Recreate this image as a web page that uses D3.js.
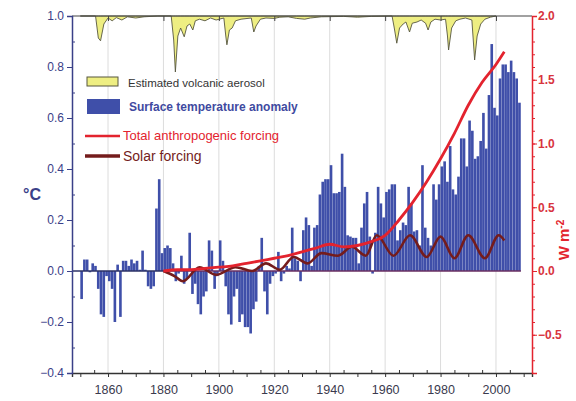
<!DOCTYPE html>
<html>
<head>
<meta charset="utf-8">
<script src="https://cdn.jsdelivr.net/npm/d3@7"></script>
<style>
  body { margin: 0; background: #fff; }
  svg { font-family: "Liberation Sans", Arial, sans-serif; }
</style>
</head>
<body>
<div id="chart-area"></div>
<script>
// annual surface temperature anomaly (°C), 1850 - 2008
var tempStart = 1850;
var tempValues = [
  -0.11, 0.045, 0.045, -0.005, 0.03, 0.02, -0.07, -0.17, -0.18, -0.02,
  -0.04, -0.07, -0.2, 0.025, -0.18, 0.04, 0.04, 0.02, 0.045, 0.03,
  0.04, 0.005, 0.08, 0.005, -0.06, -0.07, -0.06, 0.245, 0.36, 0.07,
  0.09, 0.1, 0.09, 0.03, -0.04, -0.01, 0.06, -0.05, -0.03, 0.15,
  -0.09, -0.05, -0.13, -0.17, -0.1, -0.08, 0.12, 0.08, -0.07, -0.02,
  0.12, 0.04, -0.06, -0.17, -0.21, -0.1, -0.07, -0.2, -0.17, -0.22,
  -0.22, -0.245, -0.15, -0.12, 0.02, 0.13, -0.08, -0.17, -0.05, -0.02,
  -0.01, 0.075, -0.04, -0.01, 0.02, 0.01, 0.17, 0.05, 0.04, -0.04,
  0.16, 0.21, 0.18, 0.02, 0.17, 0.18, 0.30, 0.35, 0.36, 0.36,
  0.415, 0.305, 0.305, 0.31, 0.46, 0.33, 0.14, 0.135, 0.13, 0.13,
  0.03, 0.17, 0.265, 0.31, 0.135, -0.01, 0.15, 0.33, 0.265, 0.21,
  0.31, 0.32, 0.34, 0.34, 0.12, 0.16, 0.19, 0.18, 0.33, 0.265,
  0.155, 0.16, 0.1, 0.415, 0.17, 0.13, 0.1, 0.34, 0.28, 0.34,
  0.41, 0.43, 0.35, 0.49, 0.32, 0.30, 0.37, 0.52, 0.52, 0.41,
  0.59, 0.55, 0.44, 0.45, 0.51, 0.62, 0.48, 0.69, 0.89, 0.64,
  0.61, 0.755, 0.81, 0.81, 0.78, 0.825, 0.78, 0.755, 0.66
];

// total anthropogenic forcing (W m-2)
var anthroYears  = [1880, 1885, 1890, 1895, 1900, 1905, 1910, 1915, 1920, 1925, 1930, 1935, 1940,
                    1945, 1950, 1955, 1960, 1965, 1970, 1975, 1980, 1985, 1990, 1995, 2000, 2003];
var anthroValues = [0.0, 0.01, 0.01, 0.02, 0.03, 0.04, 0.06, 0.08, 0.10, 0.12, 0.15, 0.18, 0.21,
                    0.19, 0.20, 0.23, 0.28, 0.40, 0.54, 0.70, 0.88, 1.08, 1.30, 1.48, 1.62, 1.72];

// solar forcing (W m-2)
var solarYears  = [1880, 1884, 1887, 1893, 1899, 1906, 1912, 1917, 1922, 1927, 1932, 1937, 1943,
                   1948, 1953, 1957, 1963, 1969, 1975, 1980, 1985, 1990, 1996, 2001, 2003];
var solarValues = [0.0, -0.04, -0.08, 0.03, -0.03, 0.03, 0.0, 0.06, 0.01, 0.11, 0.06, 0.14, 0.12,
                   0.19, 0.12, 0.28, 0.12, 0.28, 0.11, 0.27, 0.10, 0.28, 0.10, 0.28, 0.24];

// estimated volcanic aerosol (optical depth, hangs from the top)
var volcYears = [1850, 1855.5, 1856.5, 1857.3, 1858.5, 1860, 1861.5, 1863, 1865, 1867, 1870, 1873, 1878,
  1882.8, 1883.7, 1884.3, 1885.2, 1886.2, 1887.5, 1888.5, 1889.5, 1890.6, 1891.5, 1893, 1895, 1897, 1899,
  1901.8, 1902.5, 1902.9, 1903.8, 1904.8, 1906, 1908, 1911.7, 1912.6, 1913.4, 1915, 1917, 1920, 1922,
  1925, 1928, 1931, 1933, 1937, 1945, 1950, 1955, 1962.5, 1963.3, 1964.2, 1965.2, 1966.5, 1967.5,
  1968.8, 1969.8, 1971.5, 1973, 1974.6, 1975.5, 1976.5, 1978, 1980, 1981.8, 1982.5, 1982.9, 1984,
  1985.5, 1987, 1989, 1991.3, 1991.8, 1992.3, 1993.2, 1994.5, 1996, 1998, 2000];
var volcValues = [0, 0, 0.055, 0.062, 0.02, 0.005, 0.012, 0.004, 0.01, 0.002, 0.005, 0.002, 0,
  0, 0.06, 0.14, 0.05, 0.03, 0.052, 0.025, 0.02, 0.035, 0.012, 0.008, 0.012, 0.005, 0.01,
  0.005, 0.05, 0.072, 0.035, 0.03, 0.012, 0.008, 0.005, 0.04, 0.025, 0.008, 0.005, 0.006, 0.003,
  0.002, 0.006, 0.008, 0.005, 0.002, 0.001, 0.003, 0.001, 0, 0.03, 0.068, 0.03, 0.02, 0.015,
  0.04, 0.018, 0.015, 0.01, 0.018, 0.035, 0.015, 0.008, 0.01, 0.008, 0.05, 0.085, 0.03,
  0.012, 0.008, 0.005, 0.01, 0.06, 0.11, 0.05, 0.02, 0.008, 0.003, 0];

var xTicks = [1860, 1880, 1900, 1920, 1940, 1960, 1980, 2000];

var W = 576, H = 401;
var pLeft = 72, pRight = 532, pTop = 16, pBottom = 373;

var navy = "#3a4088", red = "#e3232e", brown = "#741c1c", barBlue = "#3f4fa9";

var svg = d3.select("#chart-area").append("svg")
    .attr("width", W)
    .attr("height", H);

var x = d3.scaleLinear().domain([1847, 2013]).range([pLeft, pRight]);
var y = d3.scaleLinear().domain([-0.4, 1.0]).range([pBottom, pTop]);
var yR = d3.scaleLinear().domain([-0.8, 2.0]).range([pBottom, pTop]);
var yV = d3.scaleLinear().domain([0, 0.2]).range([pTop, pTop + 80]);

// vertical grid lines
svg.append("g").selectAll("line")
    .data(xTicks)
  .enter().append("line")
    .attr("x1", (d) => x(d)).attr("x2", (d) => x(d))
    .attr("y1", pTop).attr("y2", pBottom)
    .attr("stroke", "#dcdcdc")
    .attr("stroke-width", 1);

// volcanic aerosol
var volc = volcYears.map((d, i) => ({ year: d, v: volcValues[i] }));
svg.append("path")
    .datum(volc)
    .attr("d", d3.area().x((d) => x(d.year)).y0(pTop).y1((d) => yV(d.v)))
    .attr("fill", "#eeee82")
    .attr("stroke", "#57573f")
    .attr("stroke-width", 0.9);

// temperature bars
var temps = tempValues.map((d, i) => ({ year: tempStart + i, v: d }));
svg.append("g").selectAll("rect")
    .data(temps)
  .enter().append("rect")
    .attr("x", (d) => x(d.year))
    .attr("width", (d) => x(d.year + 1) - x(d.year) - 0.15)
    .attr("y", (d) => y(Math.max(0, d.v)))
    .attr("height", (d) => Math.abs(y(d.v) - y(0)))
    .attr("fill", barBlue);

// zero line
svg.append("line")
    .attr("x1", pLeft).attr("x2", x(1880))
    .attr("y1", y(0)).attr("y2", y(0))
    .attr("stroke", "#2c3266").attr("stroke-width", 1.6);
svg.append("line")
    .attr("x1", x(1880)).attr("x2", x(2009))
    .attr("y1", y(0)).attr("y2", y(0))
    .attr("stroke", "#6a2f62").attr("stroke-width", 1.6);

// forcing lines
var anthro = anthroYears.map((d, i) => ({ year: d, v: anthroValues[i] }));
var solar = solarYears.map((d, i) => ({ year: d, v: solarValues[i] }));
var line = d3.line().x((d) => x(d.year)).y((d) => yR(d.v)).curve(d3.curveMonotoneX);

svg.append("path")
    .datum(solar)
    .attr("d", line)
    .attr("fill", "none")
    .attr("stroke", brown)
    .attr("stroke-width", 2.6);

svg.append("path")
    .datum(anthro)
    .attr("d", line)
    .attr("fill", "none")
    .attr("stroke", red)
    .attr("stroke-width", 2.8);

// frame: top line with ticks
svg.append("line")
    .attr("x1", pLeft).attr("x2", pRight)
    .attr("y1", pTop).attr("y2", pTop)
    .attr("stroke", "#444").attr("stroke-width", 1.2);
var topAxis = svg.append("g")
    .attr("transform", "translate(0," + pTop + ")")
    .call(d3.axisBottom(x).tickValues(xTicks).tickSize(5).tickFormat(""));
topAxis.select(".domain").remove();
topAxis.selectAll("line").attr("stroke", "#444");

// bottom axis
var xAxis = svg.append("g")
    .attr("transform", "translate(0," + pBottom + ")")
    .call(d3.axisBottom(x).tickValues(d3.range(1850, 2011, 10)).tickSize(4)
        .tickFormat((d) => (xTicks.indexOf(d) >= 0 ? d : "")));
xAxis.select(".domain").attr("stroke", "#333").attr("stroke-width", 1.4);
xAxis.selectAll("line").attr("stroke", "#333");
xAxis.selectAll("text")
    .attr("dy", "1.1em")
    .attr("fill", "#3a3a4e")
    .style("font-size", "12.5px");
svg.append("g")
    .attr("transform", "translate(0," + pBottom + ")")
    .call(d3.axisTop(x).tickValues(d3.range(1855, 2011, 10)).tickSize(3).tickFormat(""))
    .call((g) => g.select(".domain").remove())
    .selectAll("line").attr("stroke", "#333");

// left axis
var yAxis = svg.append("g")
    .attr("transform", "translate(" + pLeft + ",0)")
    .call(d3.axisLeft(y).tickValues(d3.range(-0.4, 1.01, 0.2)).tickSize(5).tickFormat(d3.format(".1f")));
yAxis.select(".domain").attr("stroke", navy).attr("stroke-width", 1.5);
yAxis.selectAll("line").attr("stroke", navy);
yAxis.selectAll("text")
    .attr("fill", navy)
    .style("font-size", "12px");
svg.append("g")
    .attr("transform", "translate(" + pLeft + ",0)")
    .call(d3.axisRight(y).tickValues(d3.range(-0.3, 1.0, 0.2)).tickSize(3).tickFormat(""))
    .call((g) => g.select(".domain").remove())
    .selectAll("line").attr("stroke", navy);

// right axis
var yAxisR = svg.append("g")
    .attr("transform", "translate(" + pRight + ",0)")
    .call(d3.axisRight(yR).tickValues(d3.range(-0.5, 2.01, 0.5)).tickSize(5).tickFormat(d3.format(".1f")));
yAxisR.select(".domain").attr("stroke", red).attr("stroke-width", 1.5);
yAxisR.selectAll("line").attr("stroke", red);
yAxisR.selectAll("text")
    .attr("fill", "#d8343e")
    .attr("x", 6)
    .style("font-size", "12px")
    .style("font-weight", "bold");
svg.append("g")
    .attr("transform", "translate(" + pRight + ",0)")
    .call(d3.axisRight(yR).tickValues(d3.range(-0.7, 2.0, 0.1)).tickSize(3).tickFormat(""))
    .call((g) => g.select(".domain").remove())
    .selectAll("line").attr("stroke", red);

// axis titles
svg.append("text")
    .attr("x", 32).attr("y", 200)
    .attr("text-anchor", "middle")
    .attr("fill", navy)
    .style("font-size", "16px")
    .style("font-weight", "bold")
    .text("°C");

var rLabel = svg.append("text")
    .attr("transform", "translate(569,240) rotate(-90)")
    .attr("text-anchor", "middle")
    .attr("fill", red)
    .style("font-size", "15px")
    .style("font-weight", "bold");
rLabel.append("tspan").text("W m");
rLabel.append("tspan").attr("dy", "-0.5em").style("font-size", "10px").text("-2");

// legend
svg.append("rect")
    .attr("x", 87).attr("y", 77).attr("width", 31).attr("height", 9)
    .attr("fill", "#eeee82").attr("stroke", "#57573f").attr("stroke-width", 1);
svg.append("text")
    .attr("x", 128).attr("y", 87)
    .attr("fill", "#333")
    .style("font-size", "11.5px")
    .text("Estimated volcanic aerosol");

svg.append("rect")
    .attr("x", 87).attr("y", 99).attr("width", 33).attr("height", 15)
    .attr("fill", barBlue);
svg.append("text")
    .attr("x", 129).attr("y", 111)
    .attr("fill", "#3f4aa0")
    .style("font-size", "12px")
    .style("font-weight", "bold")
    .text("Surface temperature anomaly");

svg.append("line")
    .attr("x1", 85).attr("x2", 120).attr("y1", 136).attr("y2", 136)
    .attr("stroke", red).attr("stroke-width", 2.5);
svg.append("text")
    .attr("x", 123).attr("y", 140)
    .attr("fill", red)
    .style("font-size", "13px")
    .text("Total anthropogenic forcing");

svg.append("line")
    .attr("x1", 85).attr("x2", 120).attr("y1", 156).attr("y2", 156)
    .attr("stroke", brown).attr("stroke-width", 3.5);
svg.append("text")
    .attr("x", 123).attr("y", 161)
    .attr("fill", brown)
    .style("font-size", "14px")
    .text("Solar forcing");
</script>
</body>
</html>
